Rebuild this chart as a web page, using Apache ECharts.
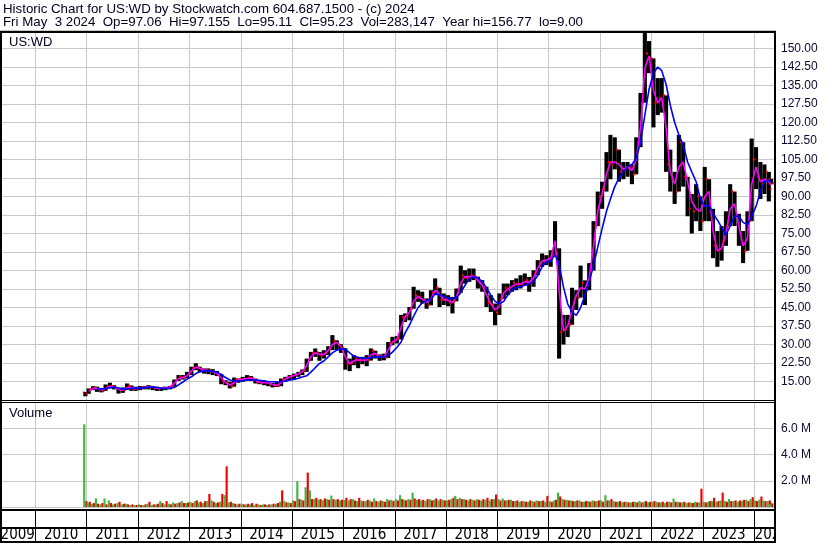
<!DOCTYPE html>
<html><head><meta charset="utf-8">
<script src="https://cdn.jsdelivr.net/npm/echarts@6.0.0/dist/echarts.min.js"></script>
<style>html,body{margin:0;padding:0;background:#fff}#c{width:830px;height:543px}</style>
</head><body><div id="c"></div>
<script>
// Monthly OHLC: Dec 2010 .. May 2024
const highs = [10.8,
12.2,13.1,12.9,12.4,13.8,14.5,13.5,12.5,12.6,14.2,13.4,12.9,
13.2,13.2,13.5,13.2,12.9,12.6,12.9,13.2,15.8,17.6,17.6,18.9,
21.0,22.4,21.0,20.3,20.3,20.0,19.3,18.0,15.5,14.9,16.6,16.2,
16.9,17.6,17.2,16.2,15.5,15.5,14.9,14.4,14.9,16.2,16.9,17.6,
18.2,18.9,19.9,24.3,27.0,28.4,27.0,27.7,29.3,33.8,31.7,30.1,
28.5,24.3,25.7,25.0,25.0,25.7,28.4,27.5,26.0,26.3,31.0,33.1,
33.4,42.0,42.6,45.2,53.4,52.0,51.4,48.7,52.0,56.8,53.0,50.7,
50.0,49.3,52.7,62.0,60.1,60.8,60.8,57.5,56.1,53.4,50.0,46.6,
50.7,54.7,54.7,56.1,56.8,58.1,58.8,57.4,60.1,64.2,66.9,66.2,
68.2,80.0,69.0,42.0,42.0,53.0,52.0,62.0,56.0,63.0,80.0,92.0,
96.0,108.0,115.0,114.0,109.0,104.0,104.0,103.0,114.0,132.0,156.77,153.0,
146.0,138.0,138.0,131.0,109.0,100.0,115.0,112.0,98.0,91.0,95.0,90.0,
102.0,97.0,85.0,76.0,78.0,84.0,95.0,92.0,83.0,76.0,84.0,113.5,
110.0,104.0,103.0,100.0,97.155];
const lows = [9.0,
10.0,11.5,10.8,10.6,11.2,12.2,11.8,10.1,10.4,11.6,11.2,11.2,
11.5,11.8,11.8,11.5,11.2,11.2,11.5,11.8,12.9,15.2,15.8,16.4,
17.6,19.6,18.9,18.2,18.0,17.6,17.2,13.9,13.5,12.2,12.9,14.5,
14.9,15.5,15.2,14.2,13.9,13.5,13.1,12.6,12.8,13.1,14.9,15.5,
15.8,16.9,17.6,18.9,23.4,25.0,23.4,24.3,25.7,27.7,27.7,26.6,
19.8,19.2,21.6,20.4,22.0,21.2,23.5,24.3,23.4,23.6,24.5,29.7,
30.4,32.0,39.1,39.8,44.5,47.3,46.6,44.5,45.9,50.0,45.2,46.0,
45.5,42.6,47.5,51.0,54.7,55.4,56.1,52.7,51.4,45.2,43.2,37.8,
42.0,48.5,50.0,51.4,52.0,52.7,54.0,51.4,53.4,58.1,61.5,62.2,
61.5,65.5,24.3,30.0,33.0,38.0,44.0,49.0,46.0,52.0,60.0,78.0,
85.0,92.0,97.0,101.0,96.0,97.0,98.0,95.0,99.0,110.0,128.0,140.0,
118.0,123.0,124.0,100.0,92.0,87.0,92.0,94.0,82.0,75.0,80.0,76.0,
80.0,80.0,65.0,61.5,64.0,70.0,78.0,78.0,70.0,63.0,68.0,80.0,
93.0,89.0,91.0,88.0,95.11];
const opens = [10.5,
10.0,11.8,12.5,12.0,11.2,13.0,13.2,12.4,11.5,11.6,13.3,12.0,
12.3,12.6,12.8,12.9,12.5,12.1,12.5,12.4,13.2,15.5,16.8,16.5,
18.0,20.5,21.0,19.8,19.4,19.5,18.4,18.0,14.9,14.2,13.0,15.8,
15.9,16.0,16.5,16.2,14.8,14.4,14.8,14.0,13.5,13.3,15.8,16.5,
17.2,17.6,18.5,19.5,23.5,26.5,26.8,25.5,26.5,28.5,31.5,30.0,
28.5,22.0,22.5,24.2,23.5,23.8,23.6,27.5,25.5,25.0,24.8,30.5,
31.3,32.5,41.0,41.5,44.5,50.0,49.0,48.0,46.0,51.0,53.0,48.0,
48.5,47.0,47.5,51.0,58.0,57.0,58.0,57.5,55.0,53.0,47.0,46.0,
43.0,48.5,53.0,51.5,55.0,54.0,54.5,56.0,55.0,59.0,63.0,64.0,
64.5,66.0,67.0,35.0,36.0,38.0,47.0,49.0,55.0,52.0,60.0,78.0,
90.0,93.0,104.0,103.0,109.0,100.0,101.0,102.0,99.0,112.0,128.0,148.0,
146.0,128.0,130.0,131.0,103.0,97.0,92.0,112.0,98.0,85.0,84.0,90.0,
80.0,97.0,84.0,70.0,68.0,72.0,78.0,92.0,82.0,75.0,68.0,80.0,
105.0,98.0,95.0,100.0,97.06];
const closes = [10.0,
11.8,12.5,12.0,11.2,13.0,13.2,12.4,11.5,11.6,13.3,12.0,12.3,
12.6,12.8,12.9,12.5,12.1,12.5,12.4,13.2,15.5,16.8,16.5,18.0,
20.5,21.0,19.8,19.4,19.5,18.4,18.0,14.9,14.2,13.0,15.8,15.9,
16.0,16.5,16.2,14.8,14.4,14.8,14.0,13.5,13.3,15.8,16.5,17.2,
17.6,18.5,19.5,23.5,26.5,26.8,25.5,26.5,28.5,31.5,30.0,28.5,
22.0,22.5,24.2,23.5,23.8,23.6,27.5,25.5,25.0,24.8,30.5,31.3,
32.5,41.0,41.5,44.5,50.0,49.0,48.0,46.0,51.0,53.0,48.0,48.5,
47.0,47.5,51.0,58.0,57.0,58.0,57.5,55.0,53.0,47.0,46.0,43.0,
48.5,53.0,51.5,55.0,54.0,54.5,56.0,55.0,59.0,63.0,64.0,64.5,
66.0,67.0,35.0,36.0,38.0,47.0,49.0,55.0,52.0,60.0,78.0,90.0,
93.0,104.0,103.0,109.0,100.0,101.0,102.0,99.0,112.0,128.0,148.0,146.0,
128.0,130.0,131.0,103.0,97.0,92.0,112.0,98.0,85.0,84.0,90.0,80.0,
97.0,84.0,70.0,68.0,72.0,78.0,92.0,82.0,75.0,68.0,80.0,105.0,
98.0,95.0,100.0,93.0,95.23];
// short moving average (magenta)
const maShort = [null,
11.0,12.2,12.2,11.6,12.2,13.1,12.8,11.9,11.5,12.5,12.6,12.1,
12.4,12.7,12.8,12.7,12.3,12.3,12.4,12.8,14.2,16.2,16.6,17.3,
19.3,20.8,20.4,19.6,19.4,19.0,18.2,16.4,14.6,13.6,14.4,15.8,
15.9,16.2,16.4,15.5,14.6,14.6,14.4,13.8,13.4,14.5,16.1,16.8,
17.4,18.0,19.0,21.5,25.0,26.6,26.0,26.0,27.5,30.0,30.8,29.2,
25.0,22.2,23.3,23.8,23.6,23.7,25.8,26.4,25.2,24.9,27.8,31.0,
32.0,37.0,41.2,43.0,47.5,49.5,48.5,47.0,48.5,52.0,50.5,48.2,
47.8,47.0,49.2,55.0,57.5,57.5,57.8,56.0,54.0,50.0,46.5,44.0,
45.5,51.0,52.3,53.5,54.5,54.5,55.5,55.2,57.0,61.0,63.8,64.2,
65.0,72.0,52.0,35.5,37.5,44.0,50.0,53.0,52.5,57.0,70.0,84.0,
91.0,99.0,104.0,104.0,103.0,101.0,102.0,100.5,105.0,118.0,142.0,147.0,
133.0,128.0,130.0,118.0,100.0,95.0,102.0,104.0,96.0,88.0,85.0,84.0,
90.0,92.0,76.0,68.0,69.0,75.0,85.0,87.0,78.0,70.0,73.0,95.0,
102.0,96.0,97.0,96.0,94.5];
// long moving average (blue)
const maLong = [null,
null,null,12.0,12.0,12.1,12.5,12.8,12.4,11.9,11.9,12.3,12.3,
12.3,12.5,12.7,12.8,12.6,12.3,12.2,12.3,12.6,13.6,14.8,16.0,
16.9,18.2,18.9,19.3,19.3,19.1,18.7,17.9,16.6,15.6,15.2,15.2,
15.3,15.5,15.6,15.6,15.5,15.2,15.0,14.9,14.8,14.9,15.2,15.6,
15.8,16.3,16.8,17.3,18.8,20.6,22.3,23.3,25.0,26.6,27.7,28.2,
28.1,26.6,25.3,24.7,24.5,24.3,24.7,25.0,25.0,25.0,25.5,26.9,
28.8,31.0,34.7,37.8,41.5,44.9,46.9,47.8,48.3,50.5,50.3,49.5,
48.8,48.6,49.0,51.0,54.0,56.5,57.5,57.0,55.5,53.0,50.0,47.5,
46.5,47.5,50.0,52.0,53.0,53.5,54.0,54.5,55.5,58.0,61.5,63.5,
63.8,66.4,62.7,53.3,46.5,43.2,41.8,45.0,50.0,55.5,62.0,69.5,
77.0,84.0,89.0,94.0,97.5,100.0,102.0,103.0,105.5,112.0,123.0,133.5,
140.0,142.5,141.0,135.5,127.0,120.0,115.0,111.0,104.0,100.0,96.0,89.0,
86.0,86.5,83.0,80.5,77.5,74.5,78.0,82.0,82.0,79.5,78.5,82.0,
86.0,92.0,96.0,96.5,96.0];
// peak daily volume per month (millions), up days and down days
const volUp = [6.3,
0.3,0.25,0.65,0.2,0.65,0.5,0.2,0.3,0.2,0.25,0.15,0.15,
0.2,0.15,0.25,0.15,0.2,0.45,0.2,0.25,0.35,0.3,0.45,0.3,
0.4,0.45,0.35,0.3,0.45,0.5,0.3,0.4,0.9,0.35,0.3,0.2,
0.25,0.2,0.2,0.15,0.2,0.2,0.15,0.2,0.25,0.4,0.45,0.35,
0.5,1.96,0.55,1.5,1.27,0.6,0.55,0.5,0.6,0.87,0.55,0.5,
0.55,0.5,0.6,0.45,0.5,0.45,0.5,0.65,0.4,0.45,0.6,0.55,
0.6,0.9,0.55,0.6,1.1,0.55,0.5,0.45,0.6,0.55,0.5,0.55,
0.5,0.6,0.85,0.7,0.6,0.5,0.55,0.6,0.5,0.55,0.5,0.6,
0.6,0.65,0.5,0.55,0.45,0.4,0.45,0.4,0.45,0.5,0.45,0.4,
0.45,0.5,1.1,0.6,0.55,0.5,0.45,0.5,0.4,0.45,0.5,0.45,
0.5,0.9,0.5,0.45,0.4,0.35,0.4,0.35,0.4,0.45,0.4,0.35,
0.4,0.4,0.35,0.3,0.4,0.65,0.4,0.35,0.3,0.35,0.4,0.35,
0.4,0.4,0.45,0.4,0.5,0.45,0.6,0.45,0.4,0.45,0.55,0.6,
0.5,0.55,0.5,0.45,0.2];
const volDown = [0.45,
0.4,0.3,0.25,0.3,0.2,0.3,0.25,0.4,0.25,0.2,0.2,0.15,
0.15,0.2,0.4,0.2,0.25,0.3,0.45,0.2,0.25,0.35,0.3,0.35,
0.3,0.5,0.4,0.45,1.0,0.4,0.35,1.0,3.1,0.4,0.25,0.25,
0.2,0.25,0.3,0.25,0.15,0.2,0.2,0.25,0.3,1.27,0.35,0.3,
0.45,0.6,0.5,2.62,0.6,0.7,0.6,0.65,0.55,0.6,0.6,0.55,
0.7,0.6,0.5,0.7,0.45,0.55,0.4,0.45,0.5,0.4,0.5,0.45,
0.5,0.6,0.5,0.55,0.65,0.6,0.55,0.6,0.5,0.65,0.6,0.5,
0.55,0.7,0.6,0.6,0.55,0.6,0.5,0.55,0.6,0.7,0.6,0.95,
0.5,0.5,0.55,0.45,0.5,0.45,0.4,0.5,0.4,0.45,0.5,0.85,
0.4,0.55,0.8,0.55,0.5,0.45,0.5,0.4,0.45,0.4,0.45,0.5,
0.4,0.5,0.6,0.4,0.45,0.4,0.35,0.4,0.35,0.35,0.45,0.4,
0.45,0.35,0.4,0.4,0.35,0.4,0.35,0.4,0.35,0.3,0.35,1.4,
0.35,0.45,0.7,0.45,1.1,0.4,0.45,0.5,0.5,0.55,0.45,0.75,
0.45,0.8,0.45,0.5,0.28];
const yearLabels = ['2009','2010','2011','2012','2013','2014','2015','2016','2017','2018','2019','2020','2021','2022','2023','2024'];
const titleLine1 = 'Historic Chart for US:WD by Stockwatch.com 604.687.1500 - (c) 2024';
const titleLine2 = 'Fri May  3 2024  Op=97.06  Hi=97.155  Lo=95.11  Cl=95.23  Vol=283,147  Year hi=156.77  lo=9.00';

const N = highs.length;
const dates = highs.map(function (_, i) {
  const t = 11 + i;
  const y = 2010 + Math.floor(t / 12), m = t % 12;
  const d = i === 0 ? 22 : (i === N - 1 ? 2 : 15);
  return new Date(y, m, d).getTime();
});
const X_MIN = new Date(2009, 3, 24).getTime();
const X_MAX = new Date(2024, 4, 29).getTime();
const MONTH = 30.44 * 864e5;
const YEAR = 365.25 * 864e5;

const priceData = dates.map(function (d, i) { return [d, opens[i], closes[i], lows[i], highs[i]]; });
const volData = dates.map(function (d, i) { return [d, volUp[i], volDown[i]]; });
const shortData = dates.map(function (d, i) { return [d, maShort[i]]; });
const longData = dates.map(function (d, i) { return [d, maLong[i]]; });
const yearData = yearLabels.map(function (y, i) { return [new Date(+y, 0, 1).getTime(), new Date(+y + 1, 0, 1).getTime(), i]; });

const LBL = '#0a0a32';
const GRID = '#c8c8c8';
const FONT = '"Liberation Sans", Arial, sans-serif';

function renderBar(params, api) {
  const t = api.value(0);
  const pH = api.coord([t, api.value(4)]);
  const pL = api.coord([t, api.value(3)]);
  const pO = api.coord([t, api.value(1)]);
  const pC = api.coord([t, api.value(2)]);
  const mw = api.size([MONTH, 0])[0];
  const bw = Math.max(2, mw * 0.96);
  return { type: 'group', children: [
    { type: 'rect', shape: { x: pH[0] - bw / 2, y: pH[1], width: bw, height: Math.max(1, pL[1] - pH[1]) }, style: { fill: '#000' } },
    { type: 'rect', shape: { x: pO[0] - bw / 2 - 0.5, y: pO[1] - 1, width: 1.5, height: 2 }, style: { fill: '#ff0000' } },
    { type: 'rect', shape: { x: pC[0] + bw / 2 - 1, y: pC[1] - 1, width: 1.5, height: 2 }, style: { fill: '#ff0000' } }
  ] };
}
function renderVol(params, api) {
  const t = api.value(0);
  const p0 = api.coord([t, 0]);
  const pu = api.coord([t, api.value(1)]);
  const pd = api.coord([t, api.value(2)]);
  const hw = api.size([MONTH, 0])[0] / 2;
  return { type: 'group', children: [
    { type: 'rect', shape: { x: p0[0] - hw, y: pu[1], width: hw, height: p0[1] - pu[1] }, style: { fill: '#3cb83c' } },
    { type: 'rect', shape: { x: p0[0], y: pd[1], width: hw, height: p0[1] - pd[1] }, style: { fill: '#f00000' } }
  ] };
}
function renderYear(params, api) {
  const cs = params.coordSys;
  const a = api.coord([api.value(0), 0])[0];
  const b = api.coord([api.value(1), 0])[0];
  const x0 = Math.max(a, cs.x), x1 = Math.min(b, cs.x + cs.width);
  const txt = yearLabels[api.value(2)];
  const tw = 28;
  let x, align;
  if (x1 - x0 < tw + 4) { x = x0 + 0.5; align = 'left'; } else { x = (x0 + x1) / 2; align = 'center'; }
  return { type: 'text', x: x, y: cs.y + cs.height - 7, style: { text: txt, align: align, verticalAlign: 'middle', font: '15px "Liberation Sans Narrow", "DejaVu Sans Condensed", sans-serif', fill: '#000' } };
}

function xAxisFor(idx, color) {
  return { type: 'time', gridIndex: idx, min: X_MIN, max: X_MAX, splitNumber: 15,
    minInterval: YEAR * 0.99, maxInterval: YEAR * 1.01,
    axisLine: { show: false }, axisTick: { show: false }, axisLabel: { show: false },
    splitLine: { show: true, lineStyle: { color: color, width: 1 } } };
}

const chart = echarts.init(document.getElementById('c'), null, { renderer: 'canvas' });
chart.setOption({
  animation: false,
  backgroundColor: '#ffffff',
  textStyle: { fontFamily: FONT },
  grid: [
    { left: 0, top: 30, width: 775, height: 370, containLabel: false, outerBoundsMode: 'none' },
    { left: 0, top: 402, width: 775, height: 105, containLabel: false, outerBoundsMode: 'none' },
    { left: 0, top: 509, width: 775, height: 33, containLabel: false, outerBoundsMode: 'none' }
  ],
  xAxis: [xAxisFor(0, GRID), xAxisFor(1, GRID), xAxisFor(2, '#000')],
  yAxis: [
    { type: 'value', gridIndex: 0, position: 'right', min: 7.5, max: 157.5, interval: 7.5,
      axisLine: { show: false }, axisTick: { show: false },
      axisLabel: { show: true, margin: 6, color: LBL, fontSize: 12, fontFamily: FONT, showMinLabel: false, showMaxLabel: false,
        formatter: function (v) { return v.toFixed(2); } },
      splitLine: { show: true, lineStyle: { color: GRID, width: 1 } } },
    { type: 'value', gridIndex: 1, position: 'right', min: 0, max: 8, interval: 2,
      axisLine: { show: false }, axisTick: { show: false },
      axisLabel: { show: true, margin: 6, color: LBL, fontSize: 12, fontFamily: FONT, showMinLabel: false, showMaxLabel: false,
        formatter: function (v) { return v.toFixed(1) + ' M'; } },
      splitLine: { show: true, lineStyle: { color: GRID, width: 1 } } },
    { type: 'value', gridIndex: 2, min: 0, max: 1, show: false }
  ],
  series: [
    { type: 'custom', name: 'price', xAxisIndex: 0, yAxisIndex: 0, renderItem: renderBar, data: priceData,
      encode: { x: 0, y: [1, 2, 3, 4] }, clip: true, z: 2 },
    { type: 'line', name: 'maShort', xAxisIndex: 0, yAxisIndex: 0, data: shortData, symbol: 'none', showSymbol: false,
      lineStyle: { color: '#ff00ff', width: 1.6 }, itemStyle: { color: '#ff00ff' }, z: 3, connectNulls: false },
    { type: 'line', name: 'maLong', xAxisIndex: 0, yAxisIndex: 0, data: longData, symbol: 'none', showSymbol: false,
      lineStyle: { color: '#0000ff', width: 1.6 }, itemStyle: { color: '#0000ff' }, z: 4, connectNulls: false },
    { type: 'custom', name: 'volume', xAxisIndex: 1, yAxisIndex: 1, renderItem: renderVol, data: volData,
      encode: { x: 0, y: [1, 2] }, clip: true, z: 2 },
    { type: 'custom', name: 'years', xAxisIndex: 2, yAxisIndex: 2, renderItem: renderYear, data: yearData,
      encode: { x: [0, 1] }, clip: true, z: 5, silent: true }
  ],
  graphic: [
    { type: 'text', x: 3, y: 9, style: { text: titleLine1, font: '13.3px ' + FONT, fill: '#000020', verticalAlign: 'middle' } },
    { type: 'text', x: 3, y: 22, style: { text: titleLine2, font: '13.3px ' + FONT, fill: '#000020', verticalAlign: 'middle' } },
    { type: 'text', x: 9, y: 42, z: 100, style: { text: 'US:WD', font: '13px ' + FONT, fill: '#000020', verticalAlign: 'middle' } },
    { type: 'text', x: 9, y: 413, z: 100, style: { text: 'Volume', font: '13px ' + FONT, fill: '#000020', verticalAlign: 'middle' } },
    { type: 'rect', z: 100, shape: { x: 0, y: 31, width: 776, height: 2 }, style: { fill: '#000' } },
    { type: 'rect', z: 100, shape: { x: 0, y: 400, width: 776, height: 1 }, style: { fill: '#000' } },
    { type: 'rect', z: 100, shape: { x: 0, y: 402, width: 776, height: 1 }, style: { fill: '#000' } },
    { type: 'rect', z: 100, shape: { x: 0, y: 509, width: 776, height: 2 }, style: { fill: '#000' } },
    { type: 'rect', z: 100, shape: { x: 0, y: 527, width: 776, height: 2 }, style: { fill: '#000' } },
    { type: 'rect', z: 100, shape: { x: 0, y: 541, width: 776, height: 2 }, style: { fill: '#000' } },
    { type: 'rect', z: 100, shape: { x: 0, y: 31, width: 2, height: 512 }, style: { fill: '#000' } },
    { type: 'rect', z: 100, shape: { x: 774, y: 31, width: 2, height: 512 }, style: { fill: '#000' } }
  ]
});
</script>
</body></html>
